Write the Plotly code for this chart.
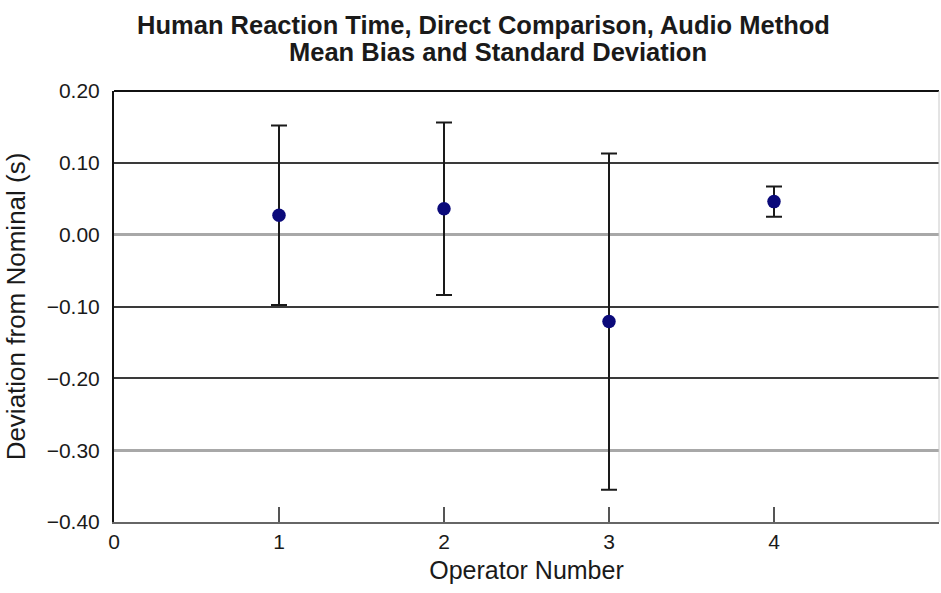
import plotly.graph_objects as go

operators = [1, 2, 3, 4]
mean_bias = [0.027, 0.036, -0.121, 0.046]
std_dev = [0.125, 0.120, 0.234, 0.021]

x_ticks = [0, 1, 2, 3, 4]
y_ticks = [0.20, 0.10, 0.00, -0.10, -0.20, -0.30, -0.40]
y_tick_text = ["0.20", "0.10", "0.00", "\u22120.10", "\u22120.20", "\u22120.30", "\u22120.40"]
light_grid_vals = [-0.30]

title_line1 = "Human Reaction Time, Direct Comparison, Audio Method"
title_line2 = "Mean Bias and Standard Deviation"

font_family = "Liberation Sans, Arial, sans-serif"
Y_RANGE = [-0.40, 0.20]

fig = go.Figure()
# empty trace to activate the overlay axis that carries the lighter gridline
fig.add_trace(go.Scatter(x=[], y=[], yaxis="y2", showlegend=False, hoverinfo="skip"))
fig.add_trace(go.Scatter(
    x=operators, y=mean_bias, mode="markers",
    marker=dict(color="#0b0a7a", size=13.5),
    error_y=dict(type="data", array=std_dev, visible=True,
                 color="#1a1a1a", thickness=2, width=8),
    showlegend=False,
))

fig.update_layout(
    width=941, height=593,
    margin=dict(l=114, r=2, t=91, b=71),
    paper_bgcolor="white", plot_bgcolor="white",
    font=dict(family=font_family, color="#1a1a1a"),
    title=dict(
        text="<b>" + title_line1 + "</b>",
        x=483.5 / 941, xanchor="center", xref="container",
        y=1 - 25 / 593, yanchor="middle", yref="container",
        font=dict(size=25.5, color="#1a1a1a"),
    ),
    annotations=[dict(
        text="<b>" + title_line2 + "</b>", showarrow=False,
        xref="paper", yref="paper",
        x=(497.5 - 114) / 825, xanchor="center",
        y=1 + (91 - 52) / 431, yanchor="middle",
        font=dict(size=25.5, color="#1a1a1a"),
    )],
    xaxis=dict(
        range=[0, 5], tickvals=x_ticks, ticktext=[str(v) for v in x_ticks],
        ticks="inside", ticklen=15, tickwidth=2, tickcolor="#555555",
        showgrid=False, zeroline=False,
        showline=True, linecolor="#666666", linewidth=2,
        tickfont=dict(size=21),
        title=dict(text="Operator Number", font=dict(size=25), standoff=9),
    ),
    yaxis=dict(
        range=Y_RANGE, tickvals=y_ticks, ticktext=y_tick_text,
        ticks="", showgrid=True, gridcolor="#3a3a3a", gridwidth=1.5,
        zeroline=True, zerolinecolor="#a8a8a8", zerolinewidth=2.5,
        showline=True, linecolor="#111111", linewidth=2,
        tickfont=dict(size=21), ticklabelstandoff=8,
        title=dict(text="Deviation from Nominal (s)", font=dict(size=26), standoff=14),
    ),
    yaxis2=dict(
        overlaying="y", range=Y_RANGE, tickvals=light_grid_vals,
        showticklabels=False, ticks="", showgrid=True,
        gridcolor="#a8a8a8", gridwidth=2.5, zeroline=False, showline=False,
    ),
    shapes=[
        dict(type="line", xref="paper", yref="paper", x0=0, x1=1, y0=1, y1=1,
             line=dict(color="#111111", width=2)),
        dict(type="line", xref="paper", yref="paper", x0=1, x1=1, y0=0, y1=1,
             line=dict(color="#c8c8c8", width=1)),
    ],
)

fig.write_html("out.html", config={"displayModeBar": False},
               post_script="document.body.style.margin='0';")
